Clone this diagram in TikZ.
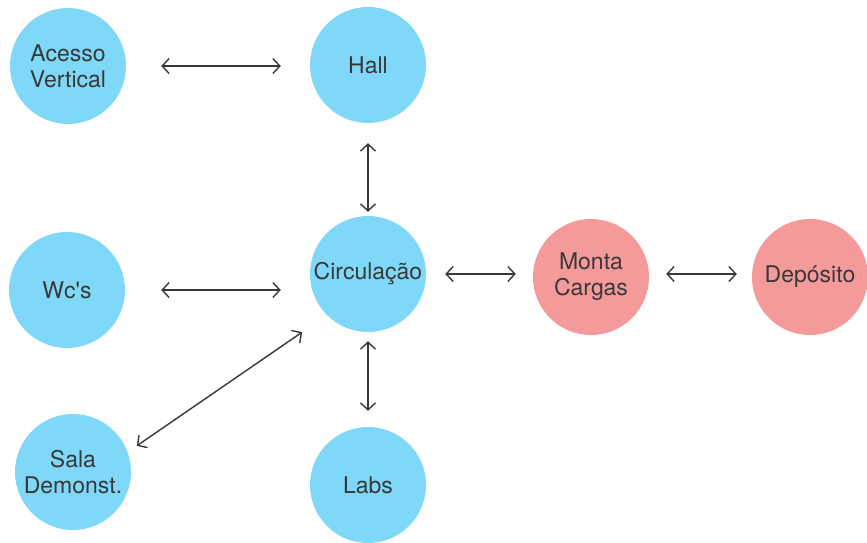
\documentclass[tikz,border=0pt]{standalone}
\usepackage{fontspec}
\setmainfont{TeX Gyre Heros}
\usetikzlibrary{arrows.meta}
\definecolor{roomblue}{HTML}{80D8F8}
\definecolor{roompink}{HTML}{F49A9A}
\definecolor{ink}{HTML}{383838}
\tikzset{
  room/.style={circle, minimum size=116pt, inner sep=0pt, draw=none,
    text=ink, align=center, font=\fontsize{23}{26}\selectfont},
  blueroom/.style={room, fill=roomblue},
  pinkroom/.style={room, fill=roompink},
  link/.style={draw=ink, line width=1.4pt,
    {Straight Barb[length=7pt,width=15pt]}-{Straight Barb[length=7pt,width=15pt]}}
}
\begin{document}
\begin{tikzpicture}[x=1pt,y=-1pt]
\useasboundingbox (0,0) rectangle (867,542);
% rooms
\node[blueroom] (acesso) at (68,66)  {Acesso\\Vertical};
\node[blueroom] (hall)   at (368,65) {Hall};
\node[blueroom] (wc)     at (67,290) {Wc\textquotesingle s};
\node[blueroom] (circ)   at (368,274) {Circulação};
\node[pinkroom] (monta)  at (591,277) {Monta\\Cargas};
\node[pinkroom] (dep)    at (810,277) {Depósito};
\node[blueroom] (sala)   at (73,472) {Sala\\Demonst.};
\node[blueroom] (labs)   at (368,485) {Labs};
% connections
\draw[link, shorten <=35pt, shorten >=29pt] (acesso.east) -- (acesso.east -| hall.west);
\draw[link, shorten <=20pt, shorten >=4pt] (hall.south) -- (circ.north);
\draw[link, shorten <=36pt, shorten >=29pt] (wc.east) -- (wc.east -| circ.west);
\draw[link, shorten <=19pt, shorten >=17pt] (circ.east) -- (circ.east -| monta.west);
\draw[link, shorten <=17pt, shorten >=15pt] (monta.east |- circ.east) -- (circ.east -| dep.west);
\draw[link, shorten <=9pt, shorten >=16pt] (circ.south) -- (labs.north);
\draw[link, shorten <=30pt, shorten >=11pt] (circ.225) -- (sala.20);
\end{tikzpicture}
\end{document}
